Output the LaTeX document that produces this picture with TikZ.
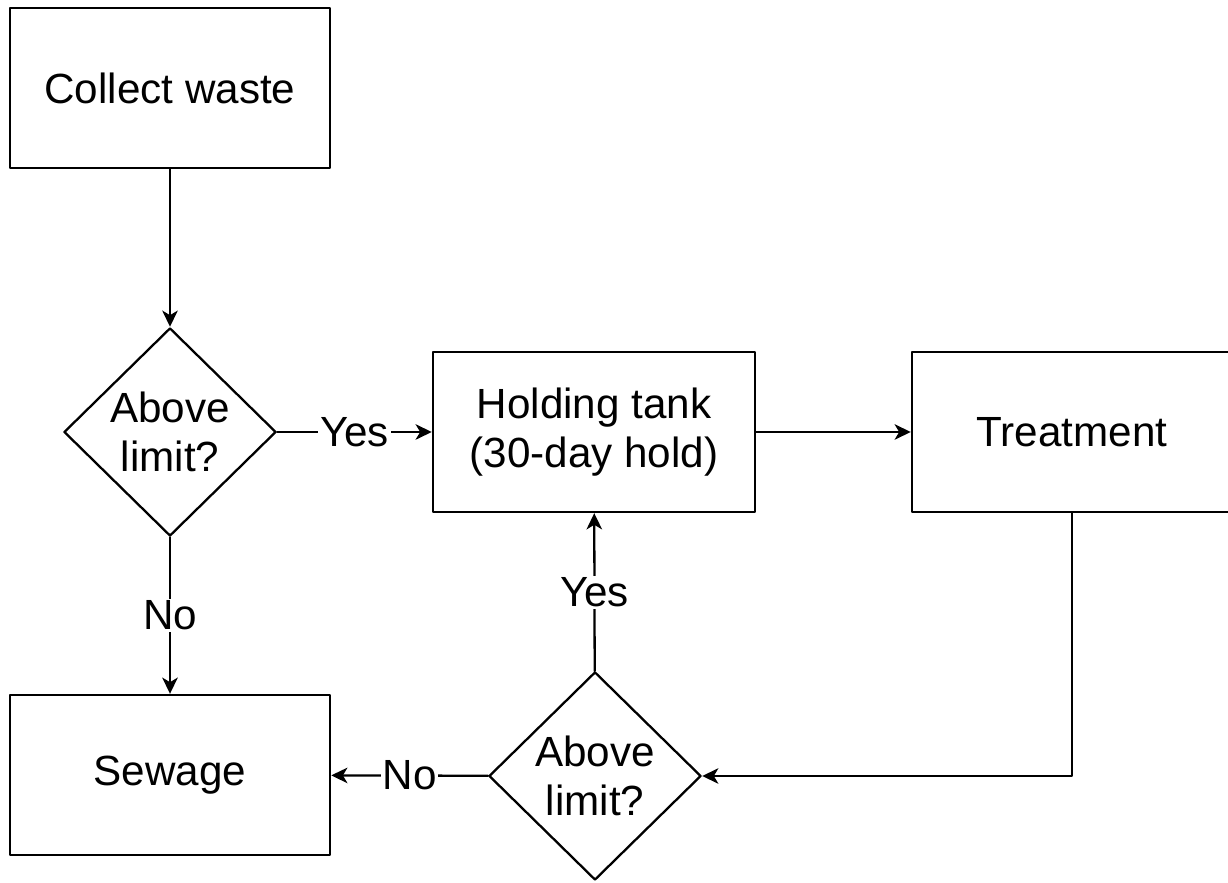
\documentclass[tikz,border=0pt]{standalone}
\usepackage{fontspec}
\setmainfont{Liberation Sans}
\usetikzlibrary{arrows.meta,shapes.geometric}

\begin{document}
\begin{tikzpicture}[line cap=round,line join=round,>={Stealth[length=4.6pt,width=4.4pt,inset=1.3pt]},x=0.01cm,y=-0.01cm,line width=0.65pt,
  box/.style={draw,minimum width=3.2cm,minimum height=1.6cm,align=center,font=\fontsize{12}{13.8}\selectfont},
  test/.style={draw,diamond,inner sep=0pt,minimum width=2.12cm,minimum height=2.08cm,align=center,font=\fontsize{12}{13.8}\selectfont},
  lbl/.style={fill=white,inner sep=0.5pt,font=\fontsize{12}{13.8}\selectfont}]
\clip (0,0) rectangle (1228,883);
\node[box] (collect) at (170,88) {Collect waste};
\node[test] (dec1) at (170,432) {Above\\limit?};
\node[box,minimum width=3.22cm] (hold) at (594,432) {Holding tank\\(30-day hold)};
\node[box] (treat) at (1072,432) {Treatment};
\node[box] (sewage) at (170,775) {Sewage};
\node[test] (dec2) at (595,776) {Above\\limit?};
\draw [->] (collect) -- (dec1);
\draw [->] (dec1) -- node[lbl] {Yes} (hold);
\draw [->] (dec1) -- node[lbl] {No} (sewage);
\draw [->] (hold) -- (treat);
\draw [->] (treat.south) |- (dec2.east);
\draw [->] (dec2) -- node[lbl] {Yes} (hold);
\draw [->] (dec2) -- node[lbl] {No} (sewage);
\end{tikzpicture}
\end{document}
